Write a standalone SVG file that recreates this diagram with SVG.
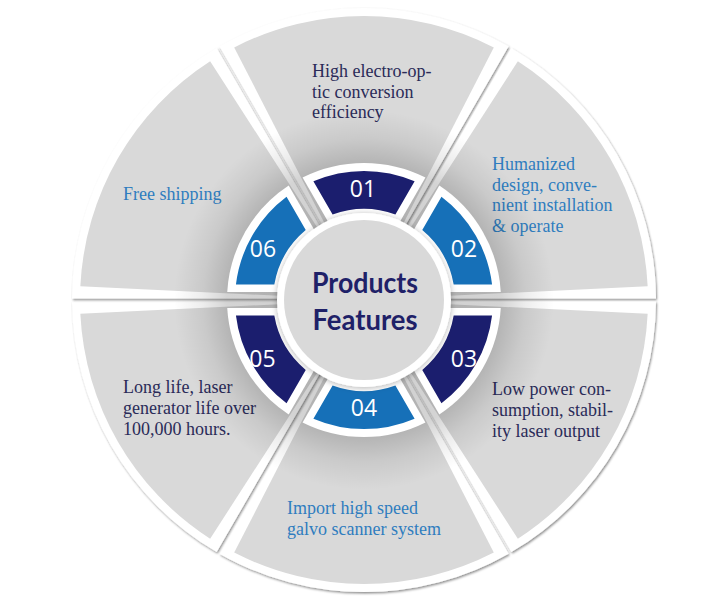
<svg xmlns="http://www.w3.org/2000/svg" xmlns:xlink="http://www.w3.org/1999/xlink" width="725" height="603" viewBox="0 0 725 603">
<style>
.wW{fill:#ffffff;filter:url(#sh)}
.wG{fill:#d9d9d9}
.rW{fill:#ffffff}
.dkB{fill:#1b1e6e}
.mdB{fill:#1670b8}
.lab{font-family:"Liberation Serif","Times New Roman",serif;font-size:18px}
.dk{fill:#2a2b58}
.bl{fill:#2f7dbf}
.num{font-family:"Open Sans","Liberation Sans",sans-serif;font-size:23px;fill:#ffffff;text-anchor:middle}
.ttl{font-family:Lato,"Liberation Sans",sans-serif;font-weight:700;font-size:28px;fill:#1f2168;text-anchor:middle}
</style>
<defs>
<filter id="sh" x="-10%" y="-10%" width="120%" height="120%">
<feDropShadow dx="1" dy="1.5" stdDeviation="1.2" flood-color="#000" flood-opacity="0.45"/>
</filter>
<filter id="sh2" x="-20%" y="-20%" width="140%" height="140%">
<feDropShadow dx="0" dy="1" stdDeviation="3" flood-color="#000" flood-opacity="0.3"/>
</filter>
<radialGradient id="ringShade" gradientUnits="userSpaceOnUse" cx="364" cy="300" r="190">
<stop offset="0" stop-color="#000" stop-opacity="0.2"/>
<stop offset="0.72" stop-color="#000" stop-opacity="0.17"/>
<stop offset="0.85" stop-color="#000" stop-opacity="0.07"/>
<stop offset="1" stop-color="#000" stop-opacity="0"/>
</radialGradient>
<path id="ringW" d="M0,-16 L-61.45,-122.45 A137,137 0 0 1 61.45,-122.45 Z"/>
<path id="ringB" d="M-50.61,-118.66 A129,129 0 0 1 50.61,-118.66 L31.41,-85.41 A91,91 0 0 0 -31.41,-85.41 Z"/>
</defs>
<rect x="0" y="0" width="725" height="603" fill="#ffffff"/>

<g id="segments">
<g id="seg-01">
<path class="wW" d="M364,297 L219.33,46.36 A292,292 0 0 1 508.67,46.36 Z"/>
<path class="wG" d="M364,300 L234.20,47.40 A284,284 0 0 1 493.80,47.40 Z"/>
<text class="lab dk"><tspan x="312" y="77">High electro-op-</tspan><tspan x="312" y="97.5">tic conversion</tspan><tspan x="312" y="118">efficiency</tspan></text>
</g>
<g id="seg-02">
<path class="wW" d="M366.60,298.5 L511.32,47.89 A292,292 0 0 1 656.0,298.47 Z"/>
<path class="wG" d="M364,300 L517.85,61.28 A284,284 0 0 1 647.66,286.13 Z"/>
<text class="lab bl"><tspan x="492" y="170">Humanized</tspan><tspan x="492" y="190.7">design, conve-</tspan><tspan x="492" y="211.4">nient installation</tspan><tspan x="492" y="232">&amp; operate</tspan></text>
</g>
<g id="seg-03">
<path class="wW" d="M366.60,301.5 L656.0,301.53 A292,292 0 0 1 511.32,552.11 Z"/>
<path class="wG" d="M364,300 L647.66,313.87 A284,284 0 0 1 517.85,538.72 Z"/>
<text class="lab dk"><tspan x="492" y="395">Low power con-</tspan><tspan x="492" y="416">sumption, stabil-</tspan><tspan x="492" y="437">ity laser output</tspan></text>
</g>
<g id="seg-04">
<path class="wW" d="M364,303 L508.67,553.64 A292,292 0 0 1 219.33,553.64 Z"/>
<path class="wG" d="M364,300 L493.80,552.60 A284,284 0 0 1 234.20,552.60 Z"/>
<text class="lab bl"><tspan x="287" y="514">Import high speed</tspan><tspan x="287" y="534.5">galvo scanner system</tspan></text>
</g>
<g id="seg-05">
<path class="wW" d="M361.40,301.5 L216.68,552.11 A292,292 0 0 1 72.0,301.53 Z"/>
<path class="wG" d="M364,300 L210.15,538.72 A284,284 0 0 1 80.34,313.87 Z"/>
<text class="lab dk"><tspan x="123" y="393">Long life, laser</tspan><tspan x="123" y="414">generator life over</tspan><tspan x="123" y="434.5">100,000 hours.</tspan></text>
</g>
<g id="seg-06">
<path class="wW" d="M361.40,298.5 L72.0,298.47 A292,292 0 0 1 216.68,47.89 Z"/>
<path class="wG" d="M364,300 L80.34,286.13 A284,284 0 0 1 210.15,61.28 Z"/>
<text class="lab bl" x="123" y="200">Free shipping</text>
</g>
</g>

<circle cx="364" cy="300" r="190" fill="url(#ringShade)"/>

<g id="badges">
<g id="badge-01">
<use xlink:href="#ringW" class="rW" transform="translate(364 300)"/>
<use xlink:href="#ringB" class="dkB" transform="translate(364 300)"/>
<text class="num" x="363" y="196.7">01</text>
</g>
<g id="badge-02">
<use xlink:href="#ringW" class="rW" transform="translate(364 300) rotate(60)"/>
<use xlink:href="#ringB" class="mdB" transform="translate(364 300) rotate(60)"/>
<text class="num" x="464" y="256.8">02</text>
</g>
<g id="badge-03">
<use xlink:href="#ringW" class="rW" transform="translate(364 300) rotate(120)"/>
<use xlink:href="#ringB" class="dkB" transform="translate(364 300) rotate(120)"/>
<text class="num" x="464" y="366.5">03</text>
</g>
<g id="badge-04">
<use xlink:href="#ringW" class="rW" transform="translate(364 300) rotate(180)"/>
<use xlink:href="#ringB" class="mdB" transform="translate(364 300) rotate(180)"/>
<text class="num" x="364" y="415.5">04</text>
</g>
<g id="badge-05">
<use xlink:href="#ringW" class="rW" transform="translate(364 300) rotate(240)"/>
<use xlink:href="#ringB" class="dkB" transform="translate(364 300) rotate(240)"/>
<text class="num" x="262.5" y="366.5">05</text>
</g>
<g id="badge-06">
<use xlink:href="#ringW" class="rW" transform="translate(364 300) rotate(300)"/>
<use xlink:href="#ringB" class="mdB" transform="translate(364 300) rotate(300)"/>
<text class="num" x="263" y="256.8">06</text>
</g>
</g>

<g id="center">
<circle cx="364" cy="300" r="87" fill="#ffffff" filter="url(#sh2)"/>
<circle cx="364" cy="300" r="80" fill="#d9d9d9"/>
<text class="ttl" x="365" y="293.3" textLength="106" lengthAdjust="spacingAndGlyphs">Products</text>
<text class="ttl" x="365" y="330" textLength="105" lengthAdjust="spacingAndGlyphs">Features</text>
</g>
</svg>
